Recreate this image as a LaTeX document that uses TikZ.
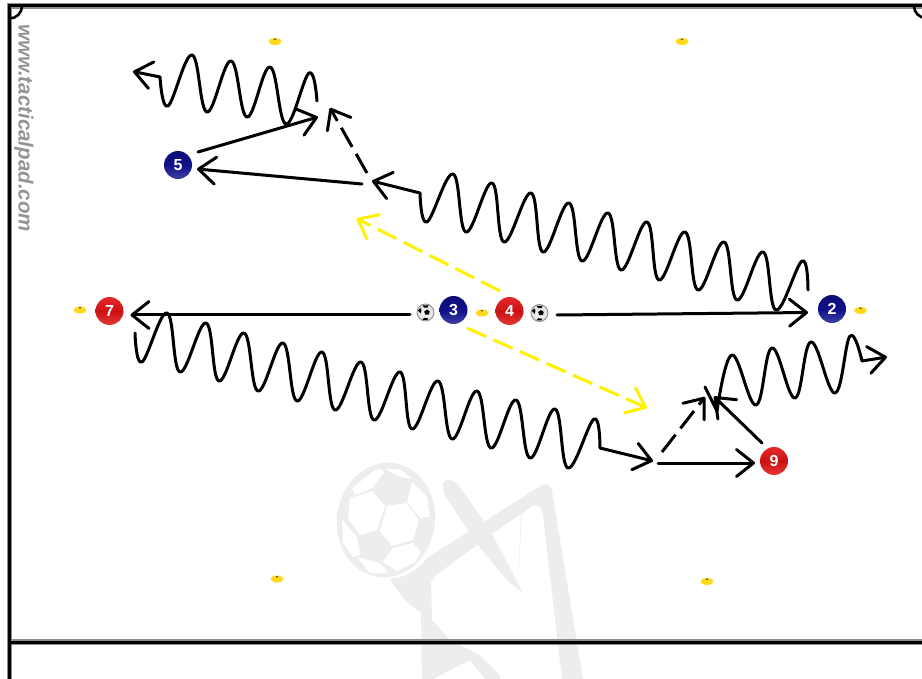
\documentclass[tikz,border=0pt]{standalone}
\usepackage{fontspec}
\setmainfont{Liberation Sans}
\usetikzlibrary{arrows.meta,shapes.geometric}
\definecolor{wm}{gray}{0.93}
\definecolor{navy1}{HTML}{10108A}
\definecolor{red1}{HTML}{E21414}
\definecolor{cone}{HTML}{FFD91A}
\tikzset{
  frameline/.style={line width=3pt,black},
  framehalo/.style={line width=5.4pt,black!45},
  run/.style={line width=3pt,black,line join=round,line cap=round},
  runhead/.style={run,-{Straight Barb[length=17pt,width=27pt,round]}},
  dashrun/.style={runhead,line cap=butt,dash pattern=on 22pt off 8pt},
  yellowrun/.style={line width=3pt,yellow,line join=round,-{Straight Barb[length=17pt,width=27pt,round]},dash pattern=on 21pt off 8pt},
  player/.style={circle,minimum size=28pt,inner sep=0pt,text=white,font=\bfseries\fontsize{16}{16}\selectfont},
  blueplayer/.style={player,top color=navy1!85!black,bottom color=navy1!80!white,middle color=navy1},
  redplayer/.style={player,top color=red1!90!white,bottom color=red1!85!white,middle color=red1!90!black},
  conemark/.style={ellipse,fill=cone,minimum width=13pt,minimum height=7pt,inner sep=0pt},
  ballmark/.style={circle,minimum size=17pt,inner sep=0pt,draw=black!45,line width=.8pt,inner color=white,outer color=black!15},
  wmfill/.style={fill=wm,draw=none},
}
\newcommand{\ballpatches}[1]{%
  \fill[black] ([shift={(1.5,0)}]#1.center) ++(0,-3) -- ++(2.8,2) -- ++(-1,3.2) -- ++(-3.6,0) -- ++(-1,-3.2) -- cycle;
  \fill[black] ([shift={(-7.6,-2)}]#1.center) -- ++(2.4,-2.6) -- ++(1.2,2.4) -- ++(-1,3) -- cycle;
  \fill[black] ([shift={(-3,-7.2)}]#1.center) -- ++(6,0.2) -- ++(-1,2) -- ++(-3.4,0.1) -- cycle;
  \fill[black] ([shift={(-3,7.4)}]#1.center) -- ++(5,0) -- ++(.5,-1.8) -- ++(-4,-.2) -- cycle;
}
\newcommand{\conedot}[1]{\fill[black!75] ([shift={(0,-2.2)}]#1.center) ellipse (1.4 and .7);}
\begin{document}
\begin{tikzpicture}[x=1pt,y=-1pt]
\useasboundingbox (0,0) rectangle (922,679);
\fill[white] (0,0) rectangle (922,679);

% --- watermark figure
\begin{scope}
\fill[wm,rotate around={-8:(386,520)}] (386,520) ellipse (49 and 57.5);
\begin{scope}[fill=white]
\foreach \pan in {
 {(385,468.5)--(400,469.5)--(413,479.5)--(398,476)},
 {(375,470)--(352,488)--(355,495)--(372,488)--(384,473)--(382,469)},
 {(412,482)--(407,502)--(420,518)--(430,517)--(427,497)},
 {(350,498)--(372,491)--(385,506)--(377,530)--(360,535)--(348,518)},
 {(387,506)--(406,503)--(419,520)--(413,540)--(392,546)--(380,531)},
 {(342,520)--(357,537)--(360,555)--(353,557)--(343,543)},
 {(393,548)--(413,543)--(421,552)--(415,562)--(397,571)--(383,562)},
 {(357,557)--(380,563)--(388,573)--(370,573)}}
 { \fill \pan --cycle; }
\end{scope}
% blade arm
\fill[wm] (443,484) .. controls (444,478) and (452,478) .. (459,486) -- (490,530) -- (523,593) -- (508,581) -- (477,544) -- (444,494) -- cycle;
% frame
\fill[wm,even odd rule] (427,558) -- (542,485) .. controls (548,483) and (551,487) .. (552,491) -- (583,679) -- (562,679) -- (543,515) .. controls (541,503) and (534,503) .. (530,507) -- (522,514) -- (518,585) -- (521,514) -- (493,533) -- (477,545) -- (436,575) -- (431,582) -- (432,620) -- (450,640) -- (478,654) -- (500,675) -- (500,679) -- (485,679) -- (470,660) -- (433,679) -- (433,679) -- (422,679) -- (421,613) -- (405,600) -- (390,580) -- (392,578) .. controls (405,578) and (418,570) .. (427,558) -- cycle;
\end{scope}

% --- frame
\draw[framehalo] (9.5,679) -- (9.5,6) -- (922,6);
\draw[framehalo] (9.5,642) -- (922,642);
\draw[frameline] (9.5,679) -- (9.5,6) -- (922,6);
\draw[frameline] (9.5,642) -- (922,642);
\draw[line width=2.6pt] (22,6) arc[start angle=0,end angle=90,x radius=12.5,y radius=12.5];
\draw[line width=2.6pt] (914,6) arc[start angle=180,end angle=90,x radius=12,y radius=12];

% --- site text
\node[rotate=-90,anchor=west,inner sep=0pt,text=black!42,font=\bfseries\itshape\fontsize{20.5}{20.5}\selectfont] (site) at (24,24) {www.tacticalpad.com};

% --- cones
\node[conemark] (c1) at (275,41.5) {}; \conedot{c1}
\node[conemark] (c2) at (682,41.5) {}; \conedot{c2}
\node[conemark] (c3) at (80,310) {};  \conedot{c3}
\node[conemark] (c4) at (482,313) {}; \conedot{c4}
\node[conemark] (c5) at (860.5,310.5) {}; \conedot{c5}
\node[conemark] (c6) at (277,579) {}; \conedot{c6}
\node[conemark] (c7) at (707,581.5) {}; \conedot{c7}

% --- players
\node[blueplayer] (p5) at (178,165) {5};
\node[redplayer]  (p7) at (109.5,311) {7};
\node[blueplayer] (p3) at (453.5,310) {3};
\node[redplayer]  (p4) at (509.5,311) {4};
\node[blueplayer] (p2) at (832,309) {2};
\node[redplayer]  (p9) at (774,461) {9};

% --- balls
\node[ballmark] (b1) at (425.5,312.5) {}; \ballpatches{b1}
\node[ballmark] (b2) at (539.5,313) {}; \ballpatches{b2}

% --- named ends
\coordinate (a1) at (198,152); \coordinate (a1t) at (318,117);
\coordinate (a2) at (362,184); \coordinate (a2t) at (197,169);
\coordinate (a3) at (367,173); \coordinate (a3t) at (330,108);
\coordinate (a4) at (410,315); \coordinate (a4t) at (130.5,315);
\coordinate (a5) at (557,315); \coordinate (a5t) at (808,312.5);
\coordinate (a6) at (658,463); \coordinate (a6t) at (755,463);
\coordinate (a7) at (662,452); \coordinate (a7t) at (705,397);
\coordinate (a8) at (762,443); \coordinate (a8t) at (714,396.5);
\coordinate (y1) at (500,291); \coordinate (y1t) at (356.5,218.5);
\coordinate (y2) at (467,328); \coordinate (y2t) at (647,408);
\coordinate (wa) at (160,77); \coordinate (wat) at (133,71.5);
\coordinate (wb) at (420,193); \coordinate (wbt) at (372,181);
\coordinate (wc) at (600,448); \coordinate (wct) at (653,461);
\coordinate (wd) at (862,361); \coordinate (wdt) at (887,357);

% --- straight runs
\draw[runhead] (a1) -- (a1t);
\draw[runhead] (a2) -- (a2t);
\draw[runhead] (a4) -- (a4t);
\draw[runhead] (a5) -- (a5t);
\draw[runhead] (a6) -- (a6t);
\draw[runhead] (a8) -- (a8t);
\draw[dashrun] (a3) -- (a3t);
\draw[dashrun] (a7) -- (a7t);
\draw[yellowrun] (y1) -- (y1t);
\draw[yellowrun] (y2) -- (y2t);

% --- wavy runs
\draw[run] plot[smooth,tension=.68] coordinates {(317,101) (309,73) (286,124) (270,67) (247,117) (231,61) (207,112) (192,55) (168,106) (160,77)};
\draw[runhead] (wa) -- (wat);
\draw[run] plot[smooth,tension=.68] coordinates {(420,193) (427,222) (453,174) (466,232) (492,183) (504,242) (531,193) (543,252) (569,203) (582,261) (608,213) (621,270) (647,222) (659,280) (685,232) (698,290) (724,242) (737,300) (763,252) (776,310) (802,261) (808,290)};
\draw[runhead] (wb) -- (wbt);
\draw[run] plot[smooth,tension=.68] coordinates {(135,333) (142,362) (167,313) (180,372) (206,323) (219,381) (244,333) (258,391) (283,343) (297,401) (322,352) (335,410) (361,362) (374,420) (400,372) (412,429) (438,381) (452,439) (477,391) (491,448) (516,400) (530,458) (555,409) (568,468) (594,419) (600,448)};
\draw[runhead] (wc) -- (wct);
\draw[run] (705,387) -- (717,411);
\draw[run] plot[smooth,tension=.68] coordinates {(717,411) (732,355) (756,405) (772,348) (795,398) (811,342) (835,393) (850,336) (862,361)};
\draw[runhead] (wd) -- (wdt);
\end{tikzpicture}
\end{document}
